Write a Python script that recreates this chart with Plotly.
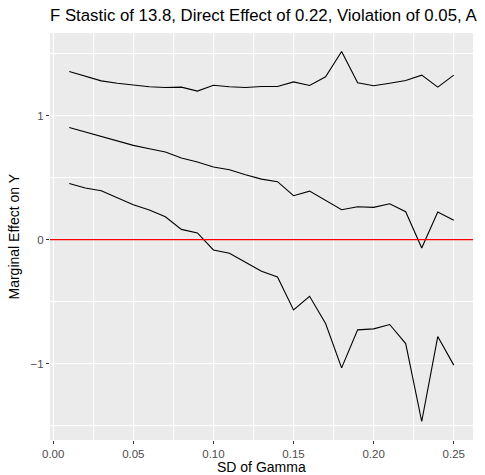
import plotly.graph_objects as go

sd_gamma = [0.01, 0.02, 0.03, 0.04, 0.05, 0.06, 0.07, 0.08, 0.09, 0.10,
            0.11, 0.12, 0.13, 0.14, 0.15, 0.16, 0.17, 0.18, 0.19, 0.20,
            0.21, 0.22, 0.23, 0.24, 0.25]
upper = [1.357, 1.320, 1.282, 1.263, 1.247, 1.234, 1.228, 1.231, 1.199, 1.247,
         1.234, 1.228, 1.237, 1.237, 1.274, 1.245, 1.315, 1.519, 1.266, 1.242,
         1.263, 1.285, 1.328, 1.231, 1.328]
estimate = [0.906, 0.871, 0.833, 0.798, 0.761, 0.734, 0.707, 0.659, 0.627, 0.586,
            0.565, 0.524, 0.489, 0.468, 0.355, 0.392, 0.317, 0.242, 0.266, 0.261,
            0.290, 0.226, -0.067, 0.223, 0.156]
lower = [0.454, 0.417, 0.395, 0.341, 0.282, 0.239, 0.185, 0.083, 0.054, -0.083,
         -0.110, -0.183, -0.255, -0.301, -0.567, -0.457, -0.677, -1.035, -0.728, -0.720,
         -0.685, -0.839, -1.468, -0.782, -1.013]
ref_y = 0

title_text = "F Stastic of 13.8, Direct Effect of 0.22, Violation of 0.05, A"
x_title = "SD of Gamma"
y_title = "Marginal Effect on Y"
x_ticks = [0.00, 0.05, 0.10, 0.15, 0.20, 0.25]
x_tick_labels = ["0.00", "0.05", "0.10", "0.15", "0.20", "0.25"]
y_ticks = [-1, 0, 1]
y_tick_labels = ["\u22121", "0", "1"]

W, H = 485, 475
L, R, T, B = 50, 12, 33, 35
PW, PH = W - L - R, H - T - B

fig = go.Figure()
for series in (upper, estimate, lower):
    fig.add_trace(go.Scatter(x=sd_gamma, y=series, mode="lines",
                             line=dict(color="black", width=1.1),
                             showlegend=False, hoverinfo="skip"))

allv = upper + estimate + lower
ymin, ymax = min(allv), max(allv)
pad = (ymax - ymin) * 0.05
xmin, xmax = min(sd_gamma), max(sd_gamma)
xpad = (xmax - xmin) * 0.05
xr = [0 - 0.002, xmax + xpad]

fig.add_trace(go.Scatter(x=xr, y=[ref_y, ref_y], mode="lines",
                         line=dict(color="#FF0000", width=1.3),
                         showlegend=False, hoverinfo="skip"))

font_family = "Liberation Sans, Arial, sans-serif"
fig.update_layout(
    width=W, height=H,
    margin=dict(l=L, r=R, t=T, b=B),
    paper_bgcolor="white",
    plot_bgcolor="#EBEBEB",
    font=dict(family=font_family, color="black"),
    title=dict(text=title_text, x=0, xref="paper", xanchor="left",
               y=1 - 15 / H, yref="container", yanchor="middle",
               automargin=False, pad=dict(l=0, r=0, t=0, b=0),
               font=dict(size=16.8, color="black", family=font_family)),
    xaxis=dict(range=xr, tickvals=x_ticks, ticktext=x_tick_labels,
               automargin=False,
               showgrid=True, gridcolor="white", gridwidth=1.1,
               zeroline=False, showline=False,
               ticks="outside", ticklen=3, tickcolor="#333333", tickwidth=1,
               tickfont=dict(size=11.5, color="#4D4D4D"),
               minor=dict(tickvals=[0.025, 0.075, 0.125, 0.175, 0.225],
                          showgrid=True, gridcolor="white", gridwidth=0.5)),
    yaxis=dict(range=[ymin - pad, ymax + pad], tickvals=y_ticks, ticktext=y_tick_labels,
               automargin=False,
               showgrid=True, gridcolor="white", gridwidth=1.1,
               zeroline=False, showline=False,
               ticks="outside", ticklen=3, tickcolor="#333333", tickwidth=1,
               tickfont=dict(size=11.5, color="#4D4D4D"),
               minor=dict(tickvals=[-1.5, -0.5, 0.5, 1.5],
                          showgrid=True, gridcolor="white", gridwidth=0.5)),
    annotations=[
        dict(text=x_title, xref="paper", yref="paper", x=0.5, y=-(467 - (T + PH)) / PH,
             xanchor="center", yanchor="middle", showarrow=False,
             font=dict(size=14, color="black")),
        dict(text=y_title, xref="paper", yref="paper", x=(13 - L) / PW, y=0.5,
             xanchor="center", yanchor="middle", showarrow=False, textangle=-90,
             font=dict(size=14, color="black")),
    ],
)
fig.write_html("out.html", config={"displayModeBar": False},
               post_script="document.body.style.margin='0';document.body.style.padding='0';")
